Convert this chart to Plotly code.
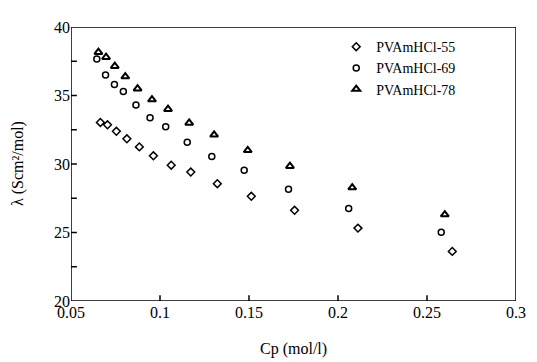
import plotly.graph_objects as go

cp_55 = [0.0665, 0.0705, 0.0755, 0.0814, 0.0884, 0.0963, 0.1063, 0.1173, 0.1322, 0.1513, 0.1756, 0.2112, 0.2642]
lam_55 = [33.03, 32.86, 32.39, 31.84, 31.25, 30.6, 29.91, 29.41, 28.56, 27.64, 26.62, 25.32, 23.62]

cp_69 = [0.0645, 0.0694, 0.0744, 0.0794, 0.0865, 0.0944, 0.1032, 0.1153, 0.1291, 0.1473, 0.1722, 0.206, 0.258]
lam_69 = [37.66, 36.5, 35.8, 35.3, 34.3, 33.38, 32.72, 31.58, 30.54, 29.55, 28.16, 26.76, 25.01]

cp_78 = [0.0654, 0.0697, 0.0746, 0.0805, 0.0874, 0.0955, 0.1045, 0.1164, 0.1304, 0.1493, 0.173, 0.208, 0.260]
lam_78 = [38.16, 37.8, 37.14, 36.38, 35.5, 34.7, 34.0, 33.0, 32.13, 31.0, 29.84, 28.28, 26.31]

names = ["PVAmHCl-55", "PVAmHCl-69", "PVAmHCl-78"]
xticks = [0.05, 0.1, 0.15, 0.2, 0.25, 0.3]
xticktext = ["0.05", "0.1", "0.15", "0.2", "0.25", "0.3"]
yticks = [20, 25, 30, 35, 40]
yminor = [22.5, 25, 27.5, 30, 32.5, 35, 37.5]
xtitle = "Cp (mol/l)"
ytitle = "λ (Scm²/mol)"

X_RANGE = [0.05, 0.3]
Y_RANGE = [20, 40]

FONT = "Liberation Serif"

fig = go.Figure()
fig.add_trace(go.Scatter(x=cp_55, y=lam_55, mode="markers", name=names[0],
                         marker=dict(symbol="diamond-open", size=6, color="black", line=dict(width=1.5))))
fig.add_trace(go.Scatter(x=cp_69, y=lam_69, mode="markers", name=names[1],
                         marker=dict(symbol="circle-open", size=6, color="black", line=dict(width=1.5))))
fig.add_trace(go.Scatter(x=cp_78, y=lam_78, mode="markers", name=names[2],
                         marker=dict(symbol="triangle-up-open", size=7, color="black", line=dict(width=2))))

# Axis frame and inside ticks, derived from the axis ranges and tick arrays
x0, x1 = X_RANGE
y0, y1 = Y_RANGE
dy = (y1 - y0) * 6 / 282
dx = (x1 - x0) * 6 / 454
fx = [x0, x1, x1, x0, x0, None]
fy = [y0, y0, y1, y1, y0, None]
for xt in xticks[1:-1]:
    fx += [xt, xt, None]
    fy += [y0, y0 + dy, None]
for yt in yminor:
    fx += [x0, x0 + dx, None]
    fy += [yt, yt, None]
fig.add_trace(go.Scatter(x=fx, y=fy, mode="lines", showlegend=False, hoverinfo="skip",
                         cliponaxis=False, connectgaps=False,
                         line=dict(color="black", width=1.5)))

fig.update_layout(
    width=529, height=354,
    margin=dict(l=63, r=12, t=11, b=61),
    plot_bgcolor="white",
    font=dict(family=FONT, size=16, color="black"),
    showlegend=True,
    legend=dict(x=0.596, y=0.985, xanchor="left", yanchor="top",
                font=dict(family=FONT, size=14, color="black")),
    xaxis=dict(range=X_RANGE, tickmode="array", tickvals=xticks, ticktext=xticktext,
               ticks="", showline=False, showgrid=False, zeroline=False),
    yaxis=dict(range=Y_RANGE, tickmode="array", tickvals=yticks,
               ticks="", showline=False, showgrid=False, zeroline=False),
    annotations=[
        dict(text=xtitle, xref="paper", yref="paper", x=0.5, y=-0.174,
             xanchor="center", yanchor="middle", showarrow=False, font=dict(size=16)),
        dict(text=ytitle, xref="paper", yref="paper", x=-0.119, y=0.5, textangle=-90,
             xanchor="center", yanchor="middle", showarrow=False, font=dict(size=16)),
    ],
)

fig.write_html("out.html")
